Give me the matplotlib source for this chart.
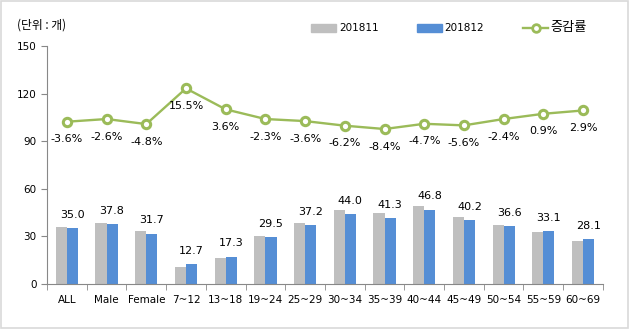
import matplotlib
matplotlib.use('Agg')
import matplotlib.pyplot as plt
import numpy as np
from matplotlib.patches import Rectangle
from matplotlib.lines import Line2D

plt.rcParams['font.family'] = ['DejaVu Sans', 'Noto Sans CJK KR']

# data
categories = ['ALL', 'Male', 'Female', '7~12', '13~18', '19~24', '25~29',
              '30~34', '35~39', '40~44', '45~49', '50~54', '55~59', '60~69']
nov = [35.9, 38.4, 33.4, 10.7, 16.4, 30.2, 38.4, 46.6, 44.7, 49.1, 42.2, 37.2, 32.8, 27.1]
dec = [35.0, 37.8, 31.7, 12.7, 17.3, 29.5, 37.2, 44.0, 41.3, 46.8, 40.2, 36.6, 33.1, 28.1]
rate_line = [102.3, 104.0, 100.8, 123.3, 110.1, 104.0, 102.7, 99.8, 97.7, 101.0, 100.0, 104.0, 107.3, 109.4]
rate_text = ['-3.6%', '-2.6%', '-4.8%', '15.5%', '3.6%', '-2.3%', '-3.6%',
             '-6.2%', '-8.4%', '-4.7%', '-5.6%', '-2.4%', '0.9%', '2.9%']
series_names = ['201811', '201812', '증감률']

c_gray = '#BFBFBF'
c_blue = '#558ED5'
c_green = '#9BBB59'

W, H = 630, 329
fig = plt.figure(figsize=(6.3, 3.29), dpi=100)
fig.patches.append(Rectangle((0.002, 0.003), 0.995, 0.993, transform=fig.transFigure,
                             fill=False, edgecolor='#D9D9D9', linewidth=1.2))
ax = fig.add_axes([0.0746, 0.1368, 0.8824, 0.7232])

x = np.arange(len(categories))
w = 0.28
ax.bar(x - w/2, nov, w, color=c_gray, zorder=2)
ax.bar(x + w/2, dec, w, color=c_blue, zorder=2)
for xi, v in zip(x, dec):
    ax.annotate(f'{v:.1f}', (xi + w/2, v), xytext=(0, 6), textcoords='offset points',
                ha='center', va='bottom', fontsize=8)

ax.plot(x, rate_line, color=c_green, linewidth=1.7, marker='o', markersize=6,
        markerfacecolor='white', markeredgecolor=c_green, markeredgewidth=2.2, zorder=3)
for xi, v, t in zip(x, rate_line, rate_text):
    ax.annotate(t, (xi, v), xytext=(0, -9), textcoords='offset points',
                ha='center', va='top', fontsize=8)

ax.set_xlim(-0.5, len(categories) - 0.5)
ax.set_ylim(0, 150)
ax.set_yticks(range(0, 151, 30))
ax.set_xticks(x)
ax.set_xticklabels(categories)
ax.set_xticks(np.arange(-0.5, len(categories), 1), minor=True)
ax.tick_params(axis='x', which='major', length=0, labelsize=7.5, pad=8)
ax.tick_params(axis='x', which='minor', length=4, color='#888888', direction='out')
ax.tick_params(axis='y', length=4, color='#888888', labelsize=7.5, direction='out')
for s in ['top', 'right']:
    ax.spines[s].set_visible(False)
for s in ['left', 'bottom']:
    ax.spines[s].set_color('#888888')

# unit label
fig.text(17/W, 1 - 25/H, '(단위 : 개)', fontsize=8.5, family=['Noto Sans CJK KR', 'DejaVu Sans'],
         va='center', ha='left')

# legend drawn by hand to match the spacing
ly = 1 - 28/H
fig.patches.append(Rectangle((311/W, ly - 3.5/H), 25/W, 7/H, transform=fig.transFigure,
                             color=c_gray))
fig.text(339/W, ly, series_names[0], fontsize=7.5, va='center', ha='left')
fig.patches.append(Rectangle((417/W, ly - 3.5/H), 25/W, 7/H, transform=fig.transFigure,
                             color=c_blue))
fig.text(444/W, ly, series_names[1], fontsize=7.5, va='center', ha='left')
fig.lines.append(Line2D([523/W, 548/W], [ly, ly], transform=fig.transFigure, color=c_green,
                        linewidth=1.7))
fig.lines.append(Line2D([535.5/W], [ly], transform=fig.transFigure, marker='o', markersize=5.5,
                        markerfacecolor='white', markeredgecolor=c_green, markeredgewidth=2))
fig.text(550/W, ly, series_names[2], fontsize=9.5, family=['Noto Sans CJK KR', 'DejaVu Sans'],
         va='center', ha='left')

fig.savefig('out.png', dpi=100)
